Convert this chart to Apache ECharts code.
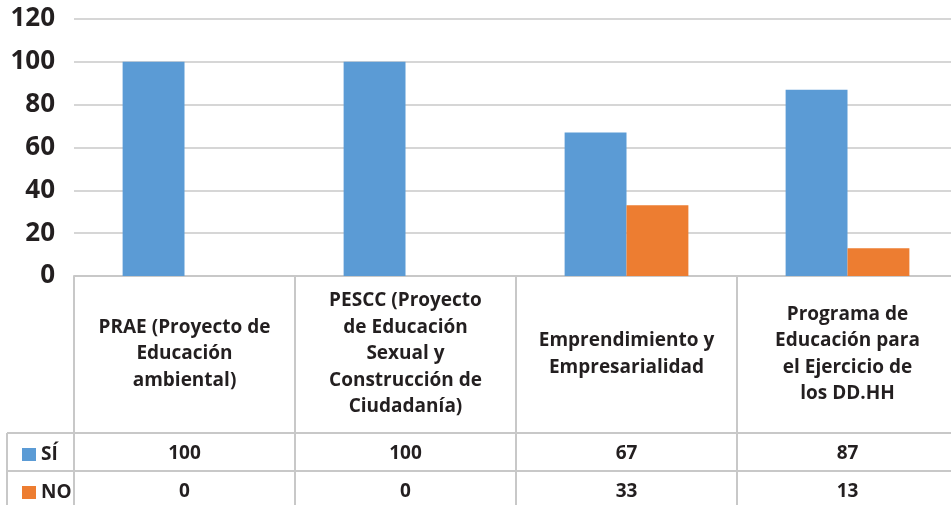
<!DOCTYPE html>
<html>
<head>
<meta charset="utf-8">
<script src="https://cdn.jsdelivr.net/npm/echarts@6/dist/echarts.min.js"></script>
<style>
  html, body { margin: 0; padding: 0; background: #fff; }
  #chart { width: 951px; height: 505px; }
</style>
</head>
<body>
<div id="chart"></div>
<script>
// categorías (con saltos de línea como en la tabla)
const categories = [
  'PRAE (Proyecto de\nEducación\nambiental)',
  'PESCC (Proyecto\nde Educación\nSexual y\nConstrucción de\nCiudadanía)',
  'Emprendimiento y\nEmpresarialidad',
  'Programa de\nEducación para\nel Ejercicio de\nlos DD.HH'
]
const siData = [100, 100, 67, 87]
const noData = [0, 0, 33, 13]
const yTicks = { min: 0, max: 120, interval: 20 }

const FONT = '"Open Sans", sans-serif'
const TXT = '#231f20'
const LINE = '#c8c8c8'

const chart = echarts.init(document.getElementById('chart'))

// filas de la tabla debajo del eje (una por serie)
const tableAxis = (values, offset) => ({
  type: 'category',
  data: values.map(String),
  position: 'bottom',
  offset: offset,
  axisLine: { show: false },
  axisTick: { show: false },
  axisLabel: {
    interval: 0, margin: 0, verticalAlign: 'middle',
    fontFamily: FONT, fontWeight: 'bold', fontSize: 19, color: TXT
  }
})

// una leyenda por fila de la tabla
const legendRow = (name, top) => ({
  left: 17, top: top,
  itemWidth: 14, itemHeight: 13,
  icon: 'rect',
  textStyle: { fontFamily: FONT, fontWeight: 'bold', fontSize: 19, color: TXT, padding: [0, 0, 0, 0] },
  data: [name]
})

chart.setOption({
  animation: false,
  grid: { left: 74, width: 884, top: 19, bottom: 229, outerBoundsMode: 'none' },
  legend: [legendRow('SÍ', 440), legendRow('NO', 478)],
  xAxis: [
    {
      type: 'category',
      data: categories,
      axisLine: { lineStyle: { color: LINE, width: 2 } },
      axisTick: { show: true, length: 229, lineStyle: { color: LINE, width: 2 } },
      axisLabel: {
        interval: 0, margin: 78, verticalAlign: 'middle', align: 'center',
        fontFamily: FONT, fontWeight: 'bold', fontSize: 19, lineHeight: 26.5, color: TXT
      }
    },
    tableAxis(siData, 178),
    tableAxis(noData, 216)
  ],
  yAxis: {
    type: 'value',
    min: yTicks.min, max: yTicks.max, interval: yTicks.interval,
    axisLine: { show: false },
    axisTick: { show: false },
    splitLine: { lineStyle: { color: LINE, width: 1.5 } },
    axisLabel: { margin: 19, fontFamily: FONT, fontWeight: 'bold', fontSize: 26, color: TXT }
  },
  series: [
    { name: 'SÍ', type: 'bar', data: siData, barGap: '0%', barCategoryGap: '44%', itemStyle: { color: '#5B9BD5' } },
    { name: 'NO', type: 'bar', data: noData, itemStyle: { color: '#ED7D31' } }
  ],
  graphic: [
    { type: 'line', shape: { x1: 7, y1: 433, x2: 951, y2: 433 }, style: { stroke: LINE, lineWidth: 2 } },
    { type: 'line', shape: { x1: 7, y1: 471, x2: 951, y2: 471 }, style: { stroke: LINE, lineWidth: 2 } },
    { type: 'line', shape: { x1: 7, y1: 433, x2: 7, y2: 505 }, style: { stroke: LINE, lineWidth: 2 } }
  ]
})
</script>
</body>
</html>
